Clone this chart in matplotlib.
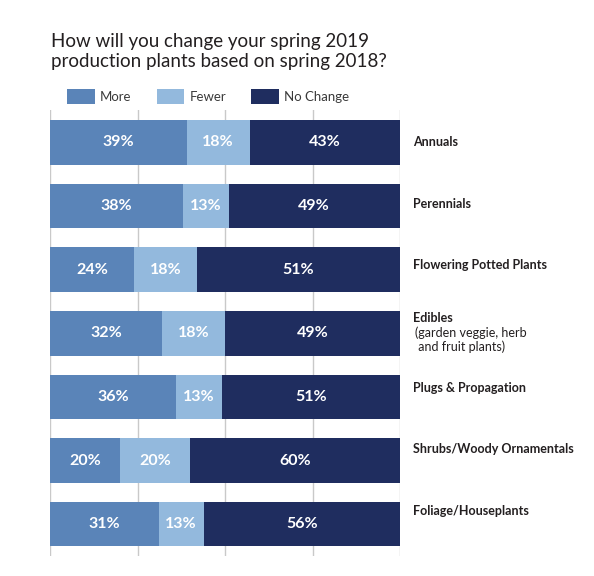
import numpy as np
import matplotlib.pyplot as plt
from matplotlib.patches import Patch

plt.rcParams['font.family'] = ['Lato', 'DejaVu Sans']

categories = ['Annuals', 'Perennials', 'Flowering Potted Plants', 'Edibles',
              'Plugs & Propagation', 'Shrubs/Woody Ornamentals', 'Foliage/Houseplants']
more = [39, 38, 24, 32, 36, 20, 31]
fewer = [18, 13, 18, 18, 13, 20, 13]
no_change = [43, 49, 51, 49, 51, 60, 56]
series = ['More', 'Fewer', 'No Change']
colors = ['#5a84b8', '#93b9dd', '#1f2d5f']

fig = plt.figure(figsize=(5.94, 5.76), dpi=100)
ax = fig.add_axes([50/594, 20/576, 350/594, 446/576])

y = np.arange(len(categories))
more = np.array(more)
fewer = np.array(fewer)
no_change = np.array(no_change)
h = 0.7

# grid lines behind the bars
for gx in [0, 25, 50, 75, 100]:
    ax.axvline(gx, color='#c9c9c9', lw=1, zorder=0)

ax.barh(y, more, height=h, color=colors[0], zorder=2)
ax.barh(y, fewer, left=more, height=h, color=colors[1], zorder=2)
# last segment fills the bar to 100
ax.barh(y, 100 - more - fewer, left=more + fewer, height=h, color=colors[2], zorder=2)

for i in range(len(categories)):
    ax.text(more[i] / 2, i, f'{more[i]}%', ha='center', va='center',
            color='white', fontsize=11.5, fontweight='bold', zorder=3)
    ax.text(more[i] + fewer[i] / 2, i, f'{fewer[i]}%', ha='center', va='center',
            color='white', fontsize=11.5, fontweight='bold', zorder=3)
    mid = more[i] + fewer[i] + (100 - more[i] - fewer[i]) / 2
    ax.text(mid, i, f'{no_change[i]}%', ha='center', va='center',
            color='white', fontsize=11.5, fontweight='bold', zorder=3)
    ly = i - 0.035 * i
    if categories[i] == 'Edibles':
        ly -= 0.14
        ax.text(104.2, ly + 0.14, '(garden veggie, herb\n and fruit plants)',
                ha='left', va='top', color='#231f20', fontsize=9,
                linespacing=1.15, clip_on=False)
    ax.text(103.7, ly, categories[i], ha='left', va='center', color='#231f20',
            fontsize=9, fontweight='bold', clip_on=False)

ax.set_xlim(0, 100)
ax.set_ylim(6.5, -0.51)
ax.axis('off')

fig.text(51/594, 1 - 33/576, 'How will you change your spring 2019\nproduction plants based on spring 2018?',
         ha='left', va='top', fontsize=13.5, color='#231f20', linespacing=1.2)

handles = [Patch(facecolor=c, edgecolor='none') for c in colors]
fig.legend(handles, series, loc='center left', bbox_to_anchor=(67/594, 1 - 96.5/576),
           ncol=3, frameon=False, fontsize=9.5, handlelength=2.1, handleheight=1.3,
           handletextpad=0.4, columnspacing=1.9, borderpad=0, borderaxespad=0,
           labelcolor='#3a3a3a')

plt.savefig('out.png', dpi=100)
